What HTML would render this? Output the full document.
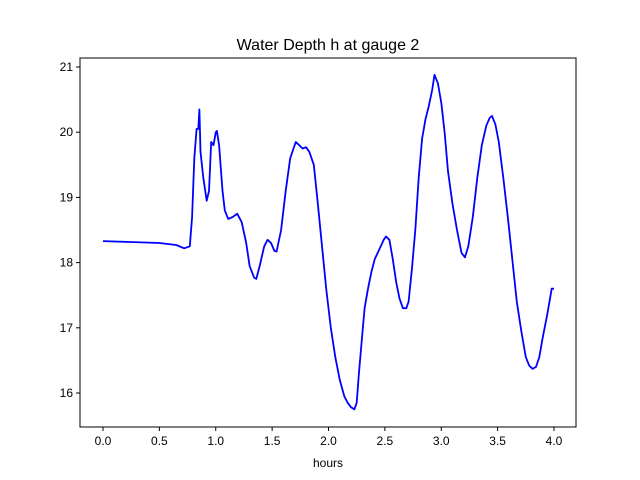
<!DOCTYPE html>
<html><head><meta charset="utf-8"><style>
body{margin:0;background:#fff}
svg{display:block;font-family:"Liberation Sans","DejaVu Sans",sans-serif}
</style></head><body>
<svg id="chart" width="640" height="480" viewBox="0 0 640 480">
<rect width="640" height="480" fill="#fff"/>
<text x="328" y="50" text-anchor="middle" font-size="16">Water Depth h at gauge 2</text>
<text x="328" y="467" text-anchor="middle" font-size="12">hours</text>
<g id="ticks"></g>
<path id="line" fill="none" stroke="#0000ff" stroke-width="1.8" stroke-linejoin="round"/>
<rect x="80" y="58" width="496" height="369" fill="none" stroke="#000" stroke-width="1"/>
</svg>
<script>
const hours=[0,0.5,0.65,0.72,0.77,0.79,0.81,0.83,0.845,0.855,0.865,0.89,0.92,0.94,0.96,0.98,1.0,1.01,1.03,1.06,1.08,1.11,1.15,1.19,1.23,1.27,1.3,1.34,1.36,1.39,1.43,1.46,1.49,1.52,1.54,1.58,1.62,1.66,1.69,1.71,1.74,1.77,1.8,1.83,1.87,1.9,1.94,1.98,2.02,2.06,2.1,2.14,2.17,2.2,2.23,2.25,2.27,2.3,2.32,2.35,2.38,2.41,2.45,2.49,2.51,2.54,2.57,2.6,2.63,2.66,2.69,2.71,2.74,2.77,2.8,2.83,2.86,2.89,2.92,2.94,2.97,3.0,3.03,3.06,3.1,3.14,3.18,3.21,3.24,3.28,3.32,3.36,3.4,3.43,3.45,3.48,3.51,3.55,3.59,3.63,3.67,3.71,3.75,3.78,3.81,3.84,3.87,3.9,3.94,3.98,4.0];
const depth=[18.33,18.3,18.27,18.22,18.25,18.7,19.6,20.05,20.05,20.35,19.7,19.3,18.95,19.1,19.85,19.8,20.0,20.02,19.8,19.1,18.8,18.67,18.7,18.75,18.62,18.3,17.95,17.77,17.75,17.95,18.25,18.35,18.3,18.18,18.17,18.5,19.1,19.6,19.75,19.85,19.8,19.75,19.77,19.7,19.5,19.0,18.3,17.6,17.0,16.55,16.2,15.95,15.85,15.78,15.75,15.85,16.3,16.9,17.3,17.6,17.85,18.05,18.2,18.35,18.4,18.35,18.05,17.7,17.45,17.3,17.3,17.4,17.9,18.5,19.3,19.9,20.2,20.4,20.65,20.88,20.75,20.45,20.0,19.4,18.9,18.5,18.15,18.08,18.25,18.7,19.3,19.8,20.1,20.22,20.25,20.12,19.85,19.3,18.7,18.05,17.4,16.95,16.55,16.42,16.37,16.4,16.55,16.85,17.2,17.6,17.6];
const xTicks=[0,0.5,1,1.5,2,2.5,3,3.5,4];
const xTickLabels=["0.0","0.5","1.0","1.5","2.0","2.5","3.0","3.5","4.0"];
const yTicks=[16,17,18,19,20,21];
const yTickLabels=["16","17","18","19","20","21"];
const sx=v=>103+(v-0)*(554-103)/4;
const sy=v=>393-(v-16)*(393-67)/5;
const NS="http://www.w3.org/2000/svg";
const g=document.getElementById('ticks');
function mk(t,a){const e=document.createElementNS(NS,t);for(const k in a)e.setAttribute(k,a[k]);g.appendChild(e);return e;}
xTicks.forEach((v,i)=>{
 const l=mk('line',{x1:sx(v),x2:sx(v),y1:427,y2:431,stroke:'#000'});
 
 
 const t=mk('text',{x:sx(v),y:445,'text-anchor':'middle','font-size':12});
 t.textContent=xTickLabels[i];
 
 
});
yTicks.forEach((v,i)=>{
 const l=mk('line',{x1:76,x2:80,y1:sy(v),y2:sy(v),stroke:'#000'});
 
 
 const t=mk('text',{x:73,y:sy(v)+4,'text-anchor':'end','font-size':12});
 t.textContent=yTickLabels[i];
 
 
});
document.getElementById('line').setAttribute('d',hours.map((h,i)=>(i?'L':'M')+sx(h).toFixed(1)+','+sy(depth[i]).toFixed(1)).join(''));
</script>
</body></html>
